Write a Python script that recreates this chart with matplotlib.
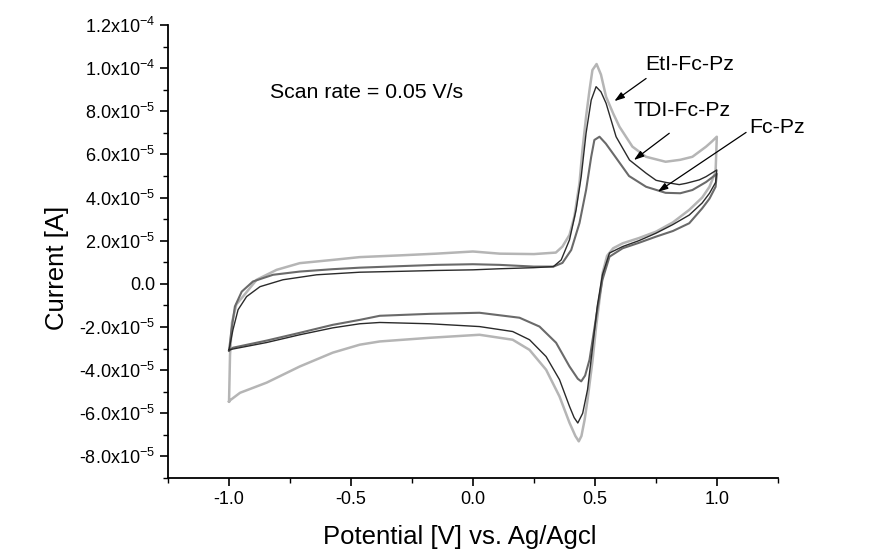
import matplotlib
matplotlib.use("Agg")
import matplotlib.pyplot as plt
from matplotlib.ticker import MultipleLocator, FuncFormatter

plt.rcParams['font.family'] = ['Liberation Sans', 'DejaVu Sans']
plt.rcParams['mathtext.fontset'] = 'custom'
plt.rcParams['mathtext.rm'] = 'Liberation Sans'
plt.rcParams['mathtext.it'] = 'Liberation Sans:italic'
plt.rcParams['mathtext.bf'] = 'Liberation Sans:bold'

# currents in units of 1e-5 A
eti_fwd_v = [-1.000, -0.996, -0.988, -0.970, -0.943, -0.887, -0.805, -0.71, -0.575, -0.464,
             -0.30, -0.15, 0.00, 0.11, 0.25, 0.34, 0.367, 0.396, 0.416, 0.437, 0.449, 0.464,
             0.478, 0.490, 0.507, 0.525, 0.546, 0.575, 0.601, 0.654, 0.71, 0.79, 0.85, 0.90,
             0.956, 0.98, 1.00]
eti_fwd_i = [-5.45, -3.30, -1.80, -0.95, -0.59, 0.19, 0.65, 0.96, 1.11, 1.24,
             1.32, 1.40, 1.50, 1.40, 1.38, 1.45, 1.73, 2.27, 3.12, 4.68, 6.20, 7.75,
             8.98, 9.91, 10.19, 9.70, 8.67, 7.90, 7.28, 6.36, 5.89, 5.66, 5.75, 5.89,
             6.36, 6.60, 6.82]
eti_rev_v = [1.00, 0.995, 0.97, 0.94, 0.887, 0.82, 0.751, 0.68, 0.614, 0.575, 0.55, 0.532,
             0.519, 0.505, 0.49, 0.47, 0.458, 0.445, 0.434, 0.42, 0.396, 0.355, 0.30, 0.232,
             0.163, 0.027, -0.177, -0.382, -0.464, -0.575, -0.71, -0.846, -0.955, -0.996, -1.00]
eti_rev_i = [6.82, 5.20, 4.50, 4.00, 3.43, 2.85, 2.42, 2.12, 1.88, 1.65, 1.30, 0.51,
             -0.74, -2.00, -3.60, -5.37, -6.30, -7.05, -7.30, -7.05, -6.44, -5.22, -3.98, -3.06,
             -2.59, -2.36, -2.50, -2.67, -2.82, -3.19, -3.83, -4.58, -5.05, -5.40, -5.45]

tdi_fwd_v = [-1.000, -0.984, -0.963, -0.928, -0.873, -0.779, -0.641, -0.464, -0.30, -0.15,
             0.00, 0.11, 0.25, 0.33, 0.362, 0.396, 0.423, 0.444, 0.464, 0.485, 0.505, 0.525,
             0.546, 0.587, 0.642, 0.71, 0.751, 0.792, 0.846, 0.874, 0.928, 0.956, 1.00]
tdi_fwd_i = [-3.06, -2.13, -1.20, -0.59, -0.13, 0.19, 0.42, 0.54, 0.58, 0.62,
             0.65, 0.70, 0.75, 0.80, 1.11, 2.04, 3.43, 4.97, 6.99, 8.52, 9.14, 8.90,
             8.37, 6.82, 5.74, 5.13, 4.80, 4.70, 4.60, 4.66, 4.82, 4.97, 5.28]
tdi_rev_v = [1.00, 0.995, 0.97, 0.94, 0.887, 0.82, 0.751, 0.68, 0.614, 0.56, 0.531, 0.51,
             0.49, 0.47, 0.45, 0.43, 0.415, 0.396, 0.355, 0.30, 0.232, 0.163, 0.027, -0.177,
             -0.382, -0.464, -0.575, -0.71, -0.846, -0.984, -1.00]
tdi_rev_i = [5.28, 4.70, 4.20, 3.75, 3.19, 2.75, 2.35, 2.00, 1.73, 1.43, 0.42, -1.02,
             -3.00, -4.90, -6.00, -6.45, -6.20, -5.68, -4.44, -3.37, -2.59, -2.21, -1.98, -1.85,
             -1.79, -1.85, -2.04, -2.36, -2.72, -3.02, -3.06]

fc_fwd_v = [-1.000, -0.990, -0.976, -0.948, -0.902, -0.82, -0.71, -0.575, -0.464, -0.30,
            -0.15, 0.00, 0.11, 0.25, 0.33, 0.367, 0.403, 0.437, 0.464, 0.485, 0.498, 0.519,
            0.545, 0.58, 0.64, 0.71, 0.79, 0.85, 0.90, 0.956, 1.00]
fc_fwd_i = [-3.10, -2.13, -1.05, -0.36, 0.11, 0.42, 0.57, 0.68, 0.75, 0.82,
            0.88, 0.91, 0.88, 0.80, 0.80, 0.97, 1.57, 2.82, 4.35, 5.89, 6.67, 6.82,
            6.50, 5.95, 5.00, 4.50, 4.22, 4.20, 4.35, 4.72, 5.10]
fc_rev_v = [1.00, 0.995, 0.97, 0.94, 0.887, 0.82, 0.751, 0.68, 0.614, 0.56, 0.531, 0.51,
            0.478, 0.46, 0.444, 0.43, 0.396, 0.341, 0.273, 0.191, 0.027, -0.177, -0.382,
            -0.464, -0.575, -0.71, -0.846, -0.984, -1.00]
fc_rev_i = [5.10, 4.50, 3.95, 3.50, 2.81, 2.45, 2.19, 1.90, 1.65, 1.26, 0.19, -1.20,
            -3.52, -4.25, -4.52, -4.40, -3.83, -2.73, -1.98, -1.57, -1.34, -1.39, -1.48,
            -1.67, -1.90, -2.27, -2.63, -2.96, -3.10]

scale = 1e-5

fig = plt.figure(figsize=(8.94, 5.49), dpi=100)
ax = fig.add_axes([0.188, 0.1293, 0.682, 0.8252])

ax.plot(eti_fwd_v + eti_rev_v, [i * scale for i in eti_fwd_i + eti_rev_i],
        color='#b5b5b5', lw=1.8)
ax.plot(fc_fwd_v + fc_rev_v, [i * scale for i in fc_fwd_i + fc_rev_i],
        color='#6a6a6a', lw=1.5)
ax.plot(tdi_fwd_v + tdi_rev_v, [i * scale for i in tdi_fwd_i + tdi_rev_i],
        color='#2a2a2a', lw=1.0)

ax.set_xlim(-1.25, 1.25)
ax.set_ylim(-9e-5, 1.2e-4)

ax.spines['top'].set_visible(False)
ax.spines['right'].set_visible(False)
for s in ('left', 'bottom'):
    ax.spines[s].set_linewidth(1.3)

ax.xaxis.set_major_locator(MultipleLocator(0.5))
ax.xaxis.set_minor_locator(MultipleLocator(0.25))
ax.yaxis.set_major_locator(MultipleLocator(2e-5))
ax.yaxis.set_minor_locator(MultipleLocator(1e-5))
ax.tick_params(which='major', length=6, width=1.2, labelsize=13, direction='out')
ax.tick_params(which='minor', length=3.5, width=1.0, direction='out')


def sci_fmt(v, pos):
    if abs(v) < 1e-12:
        return '0.0'
    exp = int(f'{v:e}'.split('e')[1])
    mant = v / 10 ** exp
    return f'{mant:.1f}x10$^{{{exp}}}$'


ax.yaxis.set_major_formatter(FuncFormatter(sci_fmt))
ax.xaxis.set_major_formatter(FuncFormatter(lambda v, p: f'{v:.1f}'))

ax.set_xlabel('Potential [V] vs. Ag/Agcl', fontsize=18.5)
ax.set_ylabel('Current [A]', fontsize=18.5)
ax.xaxis.set_label_coords(0.479, -0.13)
ax.yaxis.set_label_coords(-0.182, 0.464)
ax.xaxis.label.set_va('center')
ax.yaxis.label.set_va('center')

ax.text(-0.833, 8.88e-5, 'Scan rate = 0.05 V/s', fontsize=15.3, va='center', ha='left')

arrow = dict(arrowstyle='-|>,head_length=0.6,head_width=0.2', color='black', lw=0.9,
             shrinkA=0, shrinkB=0)
ax.text(0.706, 10.19e-5, 'EtI-Fc-Pz', fontsize=15.3, va='center', ha='left')
ax.annotate('', xy=(0.58, 8.47e-5), xytext=(0.71, 9.52e-5), arrowprops=arrow)
ax.text(0.658, 8.03e-5, 'TDI-Fc-Pz', fontsize=15.3, va='center', ha='left')
ax.annotate('', xy=(0.66, 5.74e-5), xytext=(0.805, 6.98e-5), arrowprops=arrow)
ax.text(1.133, 7.25e-5, 'Fc-Pz', fontsize=15.3, va='center', ha='left')
ax.annotate('', xy=(0.758, 4.27e-5), xytext=(1.12, 7.02e-5), arrowprops=arrow)

fig.savefig('out.png', dpi=100)
